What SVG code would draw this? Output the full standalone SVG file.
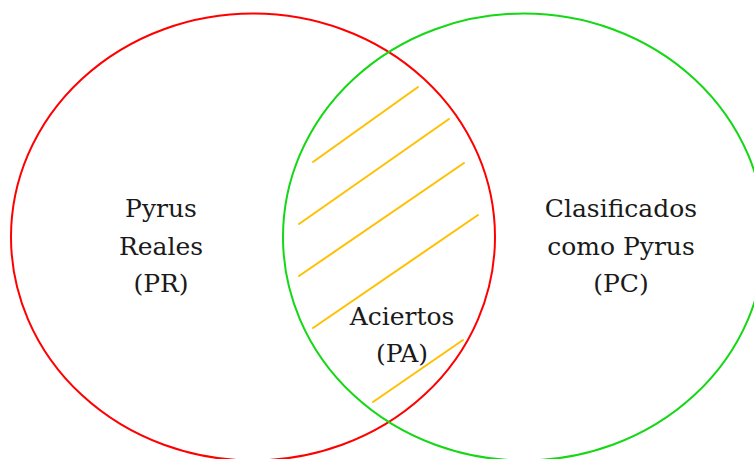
<svg xmlns="http://www.w3.org/2000/svg" width="754" height="459" viewBox="0 0 754 459">
  <style>
    .set { fill: none; stroke-width: 2; }
    .hatch { stroke: #ffc000; stroke-width: 2; stroke-linecap: round; }
    .label { font-family: "DejaVu Serif", serif; font-size: 25px; fill: #1a1a1a; text-anchor: middle; }
  </style>
  <rect width="754" height="459" fill="#ffffff"/>
  <g id="connectors">
    <g id="hatching">
      <line class="hatch" x1="313" y1="162" x2="418" y2="87"/>
      <line class="hatch" x1="299" y1="224" x2="449" y2="119"/>
      <line class="hatch" x1="299" y1="276" x2="464" y2="163"/>
      <line class="hatch" x1="313" y1="328" x2="478" y2="215"/>
      <line class="hatch" x1="373" y1="402" x2="463" y2="340"/>
    </g>
  </g>
  <g id="pyrus-reales">
    <ellipse class="set" cx="253" cy="237" rx="242" ry="223.5" stroke="#ff0000"/>
    <text class="label" x="161" y="217">Pyrus</text>
    <text class="label" x="161" y="255">Reales</text>
    <text class="label" x="161" y="292">(PR)</text>
  </g>
  <g id="clasificados">
    <ellipse class="set" cx="524" cy="237" rx="241" ry="223.5" stroke="#14d814"/>
    <text class="label" x="621" y="217">Clasificados</text>
    <text class="label" x="621" y="255">como Pyrus</text>
    <text class="label" x="621" y="292">(PC)</text>
  </g>
  <g id="aciertos">
    <text class="label" x="402" y="325">Aciertos</text>
    <text class="label" x="402" y="362">(PA)</text>
  </g>
</svg>
